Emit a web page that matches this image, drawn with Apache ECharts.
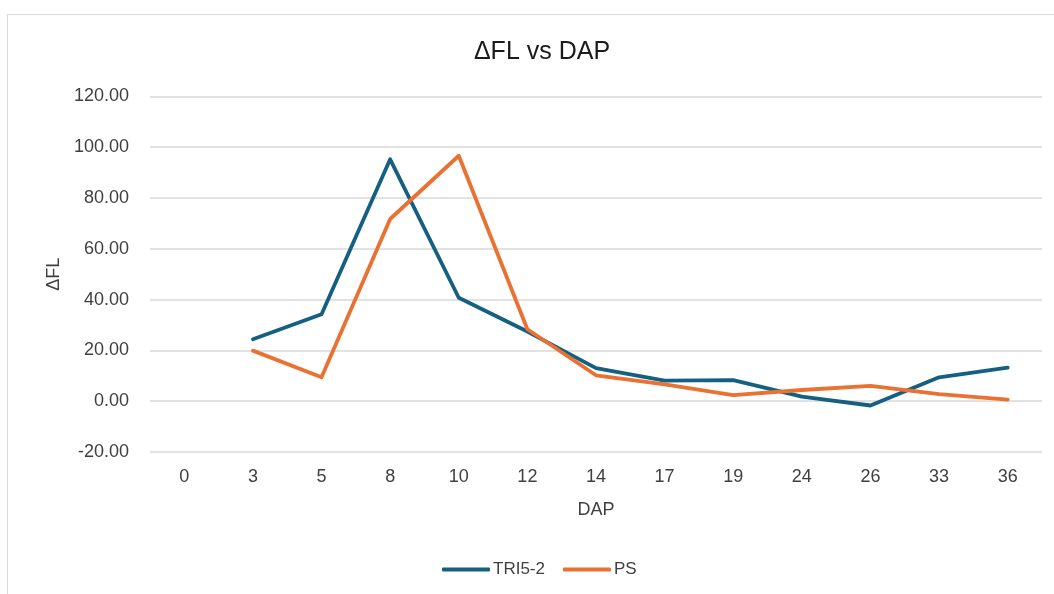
<!DOCTYPE html>
<html><head><meta charset="utf-8">
<script src="https://cdn.jsdelivr.net/npm/echarts@6/dist/echarts.min.js"></script>
<style>html,body{margin:0;padding:0;background:#fff}#c{width:1054px;height:594px}</style>
</head><body><div id="c"></div>
<script>
const categories = ['0','3','5','8','10','12','14','17','19','24','26','33','36'];
const tri52 = [null, 24.4, 34.2, 95.2, 40.7, 27.4, 13.0, 8.1, 8.3, 1.8, -1.7, 9.4, 13.2];
const ps = [null, 19.9, 9.4, 71.7, 96.6, 28.3, 10.2, 6.6, 2.4, 4.4, 6.0, 2.8, 0.6];
const yTicks = [-20, 120, 20];

const font = '"Liberation Sans", Arial, sans-serif';
const chart = echarts.init(document.getElementById('c'), null, {renderer:'canvas'});
chart.setOption({
  animation: false,
  backgroundColor: '#fff',
  graphic: [{type:'rect', shape:{x:7.5, y:14.5, width:1200, height:800}, style:{fill:'none', stroke:'#d9d9d9', lineWidth:1}}],
  title: {text:'\u0394FL vs DAP', left: 537, top: 35, textAlign:'center',
    textStyle:{fontFamily:font, fontSize:25, fontWeight:'normal', color:'#1a1a1a'}},
  legend: {data:['TRI5-2','PS'], left: 437, top: 556, itemWidth: 48, itemHeight: 4, itemGap: 18,
    icon: 'roundRect',
    textStyle:{fontFamily:font, fontSize:17, color:'#404040', padding:[0,0,0,-2]}},
  grid: {left:150, right:12, top:96.3, bottom:594-452, containLabel:false},
  xAxis: {type:'category', data:categories, boundaryGap:true,
    name:'DAP', nameLocation:'middle', nameGap:49,
    nameTextStyle:{fontFamily:font, fontSize:18, color:'#404040'},
    axisLine:{show:false}, axisTick:{show:false},
    axisLabel:{fontFamily:font, fontSize:18, color:'#404040', margin:16}},
  yAxis: {type:'value', min:yTicks[0], max:yTicks[1], interval:yTicks[2],
    name:'\u0394FL', nameLocation:'middle', nameGap:87, nameRotate:90,
    nameTextStyle:{fontFamily:font, fontSize:18, color:'#404040'},
    axisLine:{show:false}, axisTick:{show:false},
    axisLabel:{fontFamily:font, fontSize:18, color:'#404040', margin:21, formatter: v => v.toFixed(2)},
    splitLine:{lineStyle:{color:'#d9d9d9', width:1.5}}},
  series: [
    {name:'TRI5-2', type:'line', data:tri52, symbol:'none', connectNulls:false,
      lineStyle:{color:'#156082', width:3.8, cap:'round', join:'round'}, itemStyle:{color:'#156082'}},
    {name:'PS', type:'line', data:ps, symbol:'none', connectNulls:false,
      lineStyle:{color:'#E97132', width:3.8, cap:'round', join:'round'}, itemStyle:{color:'#E97132'}}
  ]
});
</script></body></html>
